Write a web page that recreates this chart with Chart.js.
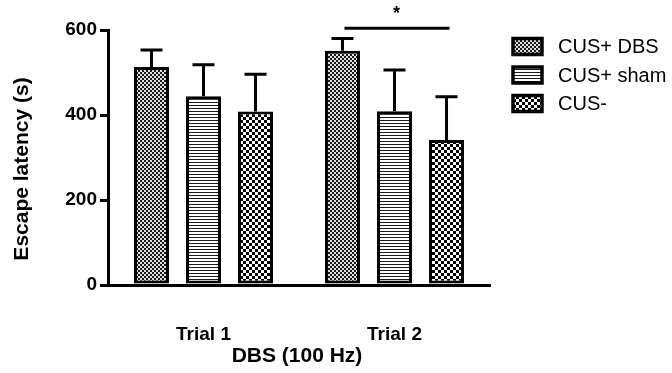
<!DOCTYPE html>
<html>
<head>
<meta charset="utf-8">
<script src="https://cdn.jsdelivr.net/npm/chart.js@4/dist/chart.umd.min.js"></script>
<style>
  html, body { margin: 0; padding: 0; background: #fff; }
  #wrap { width: 672px; height: 373px; }
</style>
</head>
<body>
<div id="wrap"><canvas id="c" width="672" height="373"></canvas></div>
<script>
// Escape latency per trial, mean and SEM for each group
const categories = ['Trial 1', 'Trial 2'];
const groupLabels = ['CUS+ DBS', 'CUS+ sham', 'CUS-'];
const dbsMean   = [513, 551];
const dbsErr    = [40, 29];
const shamMean  = [444, 409];
const shamErr   = [74, 97];
const negMean   = [408, 341];
const negErr    = [88, 102];
const yTicks    = [0, 200, 400, 600];
// significance bracket over Trial 2: CUS+ DBS vs CUS-
const sigBracket = { category: 1, fromSet: 0, toSet: 2, level: 604, mark: '*' };

const FONT = "'Liberation Sans', Arial, sans-serif";

function makePattern(kind) {
  const c = document.createElement('canvas');
  const g = c.getContext('2d');
  if (kind === 'fine') {
    c.width = 4; c.height = 4;
    g.fillStyle = '#e0e0e0'; g.fillRect(0, 0, 4, 4);
    g.fillStyle = '#1a1a1a';
    g.fillRect(0, 0, 2, 2); g.fillRect(2, 2, 2, 2);
  } else if (kind === 'stripes') {
    c.width = 4; c.height = 3;
    g.fillStyle = '#ffffff'; g.fillRect(0, 0, 4, 3);
    g.fillStyle = '#1a1a1a'; g.fillRect(0, 0, 4, 1);
  } else {
    c.width = 6; c.height = 6;
    g.fillStyle = '#ffffff'; g.fillRect(0, 0, 6, 6);
    g.fillStyle = '#000000';
    g.fillRect(0, 0, 3, 3); g.fillRect(3, 3, 3, 3);
  }
  return g.createPattern(c, 'repeat');
}

const fills = [makePattern('fine'), makePattern('stripes'), makePattern('coarse')];
const means = [dbsMean, shamMean, negMean];
const errs  = [dbsErr, shamErr, negErr];

const errorBars = {
  id: 'errorBars',
  afterDatasetsDraw(chart) {
    const ctx = chart.ctx;
    const y = chart.scales.y;
    ctx.save();
    ctx.strokeStyle = '#000';
    ctx.lineWidth = 3;
    ctx.lineCap = 'butt';
    chart.data.datasets.forEach((ds, i) => {
      const meta = chart.getDatasetMeta(i);
      meta.data.forEach((bar, j) => {
        const top = y.getPixelForValue(means[i][j] + errs[i][j]);
        ctx.beginPath();
        ctx.moveTo(bar.x, bar.y);
        ctx.lineTo(bar.x, top);
        ctx.moveTo(bar.x - 11, top);
        ctx.lineTo(bar.x + 11, top);
        ctx.stroke();
      });
    });
    // significance bracket
    const a = chart.getDatasetMeta(sigBracket.fromSet).data[sigBracket.category];
    const b = chart.getDatasetMeta(sigBracket.toSet).data[sigBracket.category];
    const ly = y.getPixelForValue(sigBracket.level);
    ctx.beginPath();
    ctx.moveTo(a.x + 2, ly);
    ctx.lineTo(b.x + 3, ly);
    ctx.stroke();
    ctx.fillStyle = '#000';
    ctx.font = 'bold 18px ' + FONT;
    ctx.textAlign = 'center';
    ctx.textBaseline = 'middle';
    ctx.fillText(sigBracket.mark, (a.x + b.x) / 2 + 2, ly - 14);
    ctx.restore();
  }
};

const titlesAndLegend = {
  id: 'titlesAndLegend',
  afterDraw(chart) {
    const ctx = chart.ctx;
    ctx.save();
    ctx.fillStyle = '#000';
    // axis titles
    ctx.font = 'bold 21px ' + FONT;
    ctx.textAlign = 'center';
    ctx.textBaseline = 'middle';
    ctx.save();
    ctx.translate(22, 169);
    ctx.rotate(-Math.PI / 2);
    ctx.fillText('Escape latency (s)', 0, 0);
    ctx.restore();
    ctx.fillText('DBS (100 Hz)', 297, 356);
    // legend
    ctx.font = '20px ' + FONT;
    ctx.textAlign = 'left';
    groupLabels.forEach((lab, i) => {
      const cy = 46.5 + i * 28.5;
      ctx.fillStyle = fills[i];
      ctx.fillRect(513, cy - 8, 29, 16);
      ctx.strokeStyle = '#000';
      ctx.lineWidth = 3.5;
      ctx.strokeRect(513, cy - 8, 29, 16);
      ctx.fillStyle = '#000';
      ctx.fillText(lab, 558, cy + 1);
    });
    ctx.restore();
  }
};

new Chart(document.getElementById('c'), {
  type: 'bar',
  data: {
    labels: categories,
    datasets: groupLabels.map((lab, i) => ({
      label: lab,
      data: means[i],
      backgroundColor: fills[i],
      borderColor: '#000',
      borderWidth: 3,
      borderSkipped: false,
      categoryPercentage: 0.817,
      barPercentage: 0.673
    }))
  },
  options: {
    responsive: false,
    animation: false,
    devicePixelRatio: 1,
    layout: { padding: { top: 30, right: 182, left: 0, bottom: 0 } },
    plugins: { legend: { display: false }, tooltip: { enabled: false } },
    scales: {
      x: {
        afterFit(s) { s.height = 88; },
        grid: { display: false },
        border: { display: true, color: '#000', width: 3 },
        ticks: {
          color: '#000',
          padding: 30,
          font: { family: FONT, size: 19, weight: 'bold' }
        }
      },
      y: {
        min: 0,
        max: 600,
        afterFit(s) { s.width = 108; },
        afterBuildTicks(s) { s.ticks = yTicks.map(v => ({ value: v })); },
        grid: {
          drawOnChartArea: false,
          drawTicks: true,
          tickLength: 8,
          color: '#000',
          lineWidth: 3
        },
        border: { display: true, color: '#000', width: 3 },
        ticks: {
          color: '#000',
          padding: 3,
          font: { family: FONT, size: 19, weight: 'bold' }
        }
      }
    }
  },
  plugins: [errorBars, titlesAndLegend]
});
</script>
</body>
</html>
